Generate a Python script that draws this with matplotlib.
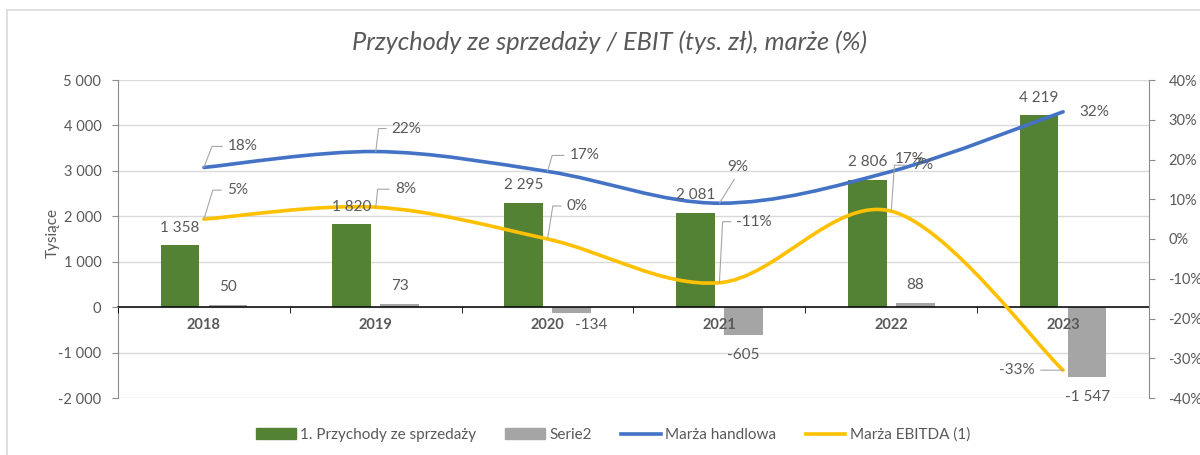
import numpy as np
import matplotlib.pyplot as plt
from matplotlib.path import Path
from matplotlib.patches import PathPatch, Patch
from matplotlib.lines import Line2D
from matplotlib.ticker import FuncFormatter

plt.rcParams['font.family'] = ['Lato', 'DejaVu Sans']

# dane z wykresu
years = ['2018', '2019', '2020', '2021', '2022', '2023']
przychody = [1358, 1820, 2295, 2081, 2806, 4219]
serie2 = [50, 73, -134, -605, 88, -1547]
marza_handlowa = [18, 22, 17, 9, 17, 32]
marza_ebitda = [5, 8, 0, -11, 7, -33]
left_ticks = list(range(-2000, 5001, 1000))
right_ticks = list(range(-40, 41, 10))

GREEN = '#548235'
GRAY = '#A5A5A5'
BLUE = '#4472C4'
YELLOW = '#FFC000'
TXT = '#595959'
AXIS = '#8C8C8C'
LEADER = '#A6A6A6'

# (dx, dy, ha, leader angle) in pixels, for the line labels
blue_pos = [(24, 21, 'left', 69), (16, 23, 'left', 83), (22, 16, 'left', 74),
            (18, 36, 'center', 'straight'), (4, 12, 'left', None), (16, 0, 'left', None)]
yellow_pos = [(23, 29, 'left', 73), (19, 18, 'left', 84), (19, 33, 'left', 81),
              (17, 61, 'left', 87), (21, 46, 'left', 86), (-28, 0, 'right', 'straight')]


def thousands(v):
    return f'{v:,.0f}'.replace(',', ' ')


def smooth_path(xs, ys):
    # excel-like smoothed line: bezier segments, catmull-rom control points
    pts = np.column_stack([xs, ys]).astype(float)
    n = len(pts)
    verts = [pts[0]]
    codes = [Path.MOVETO]
    for i in range(n - 1):
        p0 = pts[max(i - 1, 0)]
        p1 = pts[i]
        p2 = pts[i + 1]
        p3 = pts[min(i + 2, n - 1)]
        verts += [p1 + (p2 - p0) / 6, p2 - (p3 - p1) / 6, p2]
        codes += [Path.CURVE4] * 3
    return Path(verts, codes)


def line_labels(ax2, xs, vals, positions):
    for xi, v, (dx, dy, ha, lead) in zip(xs, vals, positions):
        props = None
        if lead == 'straight':
            rel = (0.5, 0) if ha == 'center' else (1, 0.5)
            props = dict(arrowstyle='-', color=LEADER, lw=0.8, shrinkA=2, shrinkB=0, relpos=rel)
        elif lead is not None:
            props = dict(arrowstyle='-', color=LEADER, lw=0.8, shrinkA=2, shrinkB=0, relpos=(0, 0.5),
                         connectionstyle=f'angle,angleA=0,angleB={lead},rad=0')
        ax2.annotate(f'{v}%', xy=(xi, v), xytext=(dx, dy), textcoords='offset pixels',
                     ha=ha, va='center', fontsize=11, color=TXT, arrowprops=props, zorder=5)


def main():
    fig = plt.figure(figsize=(12, 4.55), dpi=100)
    ax = fig.add_axes([118 / 1200, 1 - 398 / 455, (1149 - 118) / 1200, 318 / 455])
    x = np.arange(len(years))
    w = 0.225
    off = 0.14

    # gridlines by hand so the axis itself stays above the bars
    for t in left_ticks:
        ax.axhline(t, color='#D9D9D9', lw=1, zorder=0.5)

    ax.bar(x - off, przychody, w, color=GREEN, zorder=1)
    ax.bar(x + off, serie2, w, color=GRAY, zorder=1)
    ax.set_axisbelow(False)

    ax.set_xlim(-0.5, 5.5)
    ax.set_ylim(-2000, 5000)
    ax.set_yticks(left_ticks)
    ax.yaxis.set_major_formatter(FuncFormatter(lambda v, p: thousands(v)))

    ax.spines['top'].set_visible(False)
    ax.spines['right'].set_visible(False)
    ax.spines['left'].set_color(AXIS)
    ax.spines['bottom'].set_position(('data', 0))
    ax.spines['bottom'].set_color('black')
    ax.spines['bottom'].set_linewidth(1.1)

    ax.set_xticks(x)
    ax.set_xticklabels(years, fontweight='bold', color=TXT, fontsize=10.5)
    ax.set_xticks(np.arange(-0.5, 6, 1), minor=True)
    ax.tick_params(axis='x', which='major', length=0, pad=8)
    ax.tick_params(axis='x', which='minor', length=4, color='black')
    ax.tick_params(axis='y', length=4, color=AXIS, labelcolor=TXT, labelsize=10.5, pad=8)

    ax.set_ylabel('Tysiące', fontsize=11, color=TXT)
    ax.yaxis.set_label_coords((60 - 118) / 1031, 0.52)

    ax2 = ax.twinx()
    ax2.set_ylim(-40, 40)
    ax2.set_yticks(right_ticks)
    ax2.yaxis.set_major_formatter(FuncFormatter(lambda v, p: f'{v:.0f}%'))
    for s in ['top', 'left', 'bottom']:
        ax2.spines[s].set_visible(False)
    ax2.spines['right'].set_color(AXIS)
    ax2.tick_params(axis='y', length=4, color=AXIS, labelcolor=TXT, labelsize=10.5, pad=10)

    ax2.add_patch(PathPatch(smooth_path(x, marza_handlowa), fill=False, edgecolor=BLUE,
                            lw=2.6, capstyle='round', zorder=3))
    ax2.add_patch(PathPatch(smooth_path(x, marza_ebitda), fill=False, edgecolor=YELLOW,
                            lw=2.6, capstyle='round', zorder=3))

    # bar labels on top of everything
    for i, v in enumerate(przychody):
        ax2.annotate(thousands(v), xy=(x[i] - off, v), xycoords=ax.transData, xytext=(0, 17.5),
                     textcoords='offset pixels', ha='center', va='center', fontsize=11, color=TXT)
    for i, v in enumerate(serie2):
        dx, dy = (0, 18) if v > 0 else (0, -20)
        if years[i] == '2020':
            dx, dy = (20, -12)
        ax2.annotate(thousands(v), xy=(x[i] + off, v), xycoords=ax.transData, xytext=(dx, dy),
                     textcoords='offset pixels', ha='center', va='center', fontsize=11, color=TXT)

    line_labels(ax2, x, marza_handlowa, blue_pos)
    line_labels(ax2, x, marza_ebitda, yellow_pos)

    fig.text(610 / 1200, 1 - 42 / 455, 'Przychody ze sprzedaży / EBIT (tys. zł), marże (%)',
             ha='center', va='center', fontsize=18.3, style='italic', color=TXT)

    handles = [Patch(color=GREEN), Patch(color=GRAY),
               Line2D([], [], color=BLUE, lw=2.6), Line2D([], [], color=YELLOW, lw=2.6)]
    labels = ['1. Przychody ze sprzedaży', 'Serie2', 'Marża handlowa', 'Marża EBITDA (1)']
    fig.legend(handles, labels, loc='center', bbox_to_anchor=(613 / 1200, 1 - 435 / 455), ncol=4,
               frameon=False, fontsize=11, handlelength=2.6, handletextpad=0.3, columnspacing=1.9,
               labelcolor=TXT)

    # chart area frame (only left and top edge are visible in the crop)
    fig.add_artist(Line2D([7 / 1200, 7 / 1200], [0, 1 - 10 / 455], transform=fig.transFigure,
                          color='#D9D9D9', lw=1.2))
    fig.add_artist(Line2D([7 / 1200, 1], [1 - 10 / 455, 1 - 10 / 455], transform=fig.transFigure,
                          color='#D9D9D9', lw=1.2))

    fig.savefig('out.png', dpi=100)


if __name__ == '__main__':
    main()
